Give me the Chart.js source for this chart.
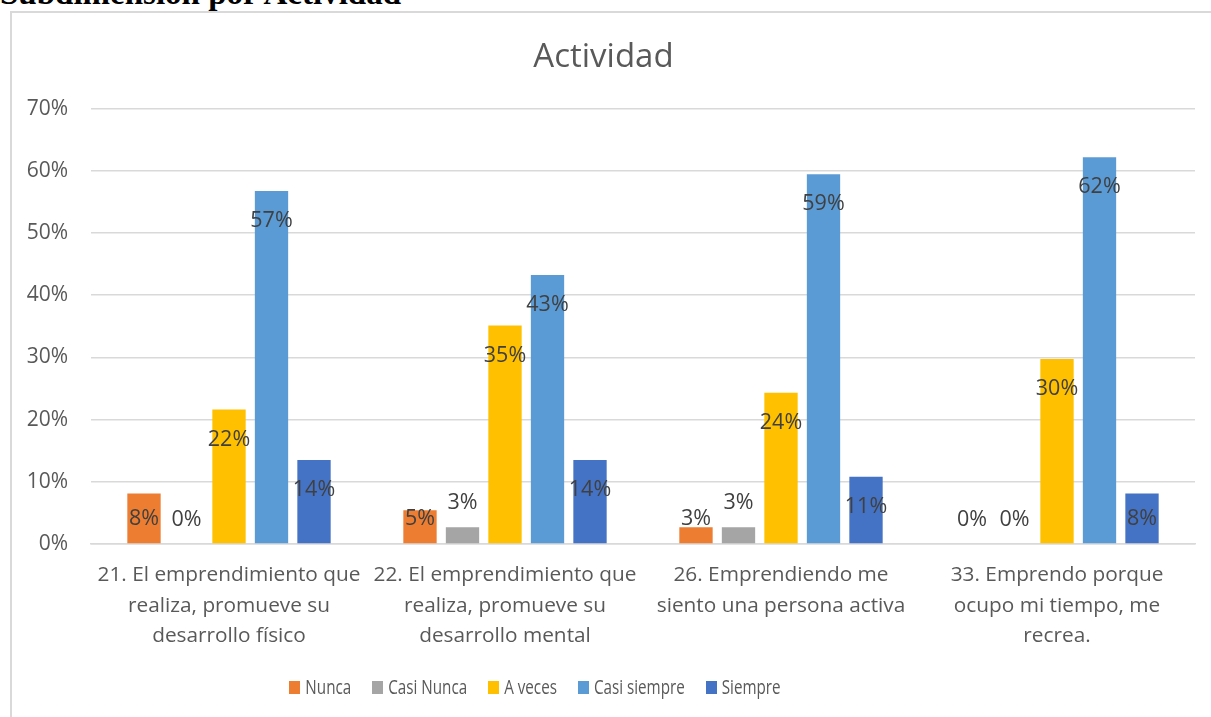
<!DOCTYPE html>
<html>
<head>
<meta charset="utf-8">
<script src="https://cdn.jsdelivr.net/npm/chart.js@4.4.1/dist/chart.umd.min.js"></script>
<style>
  html, body { margin: 0; padding: 0; background: #fff; width: 1211px; height: 717px; overflow: hidden; position: relative; }
  #pt { position: absolute; left: 0; top: -23px; font-family: "Liberation Serif", "DejaVu Serif", serif; font-weight: bold; font-size: 33px; line-height: 33px; color: #000; white-space: nowrap; }
  #box { position: absolute; left: 10px; top: 11px; width: 1220px; height: 720px; border-left: 2px solid #d9d9d9; border-top: 2px solid #d9d9d9; background: #fff; }
  #c { position: absolute; left: 12px; top: 13px; }
</style>
</head>
<body>
<div id="pt">Subdimensión por Actividad</div>
<div id="box"></div>
<canvas id="c" width="1199" height="704"></canvas>
<script>
const categories = [
  ["21. El emprendimiento que", "realiza, promueve su", "desarrollo físico"],
  ["22. El emprendimiento que", "realiza, promueve su", "desarrollo mental"],
  ["26. Emprendiendo me", "siento una persona activa"],
  ["33. Emprendo porque", "ocupo mi tiempo, me", "recrea."]
];
const seriesNames = ["Nunca", "Casi Nunca", "A veces", "Casi siempre", "Siempre"];
const nunca       = [8.11, 5.41, 2.70, 0];
const casiNunca   = [0, 2.70, 2.70, 0];
const aVeces      = [21.62, 35.14, 24.32, 29.73];
const casiSiempre = [56.76, 43.24, 59.46, 62.16];
const siempre     = [13.51, 13.51, 10.81, 8.11];
const yTicks = [0, 10, 20, 30, 40, 50, 60, 70];

const colors = ["#ED7D31", "#A5A5A5", "#FFC000", "#5B9BD5", "#4472C4"];
const seriesValues = [nunca, casiNunca, aVeces, casiSiempre, siempre];
const FONT = "'Open Sans', 'Noto Sans', sans-serif";

const dataLabels = {
  id: 'dataLabels',
  afterDatasetsDraw(chart) {
    const ctx = chart.ctx;
    ctx.save();
    ctx.font = "21.5px " + FONT;
    ctx.fillStyle = "#404040";
    ctx.textAlign = "center";
    ctx.textBaseline = "middle";
    chart.data.datasets.forEach((ds, di) => {
      const meta = chart.getDatasetMeta(di);
      meta.data.forEach((el, i) => {
        const v = ds.data[i];
        let y = Math.min(el.y + 30, el.base - 24);
        if (di === 1 && v > 0) y = el.base - 40;
        ctx.fillText(Math.round(v) + "%", el.x, y);
      });
    });
    ctx.restore();
  }
};

// Legend drawn from the chart's datasets (narrow, Calibri-like text)
const narrowLegend = {
  id: 'narrowLegend',
  afterDraw(chart) {
    const ctx = chart.ctx;
    const sx = 0.78, box = 11, boxH = 13, gapText = 5, gapItem = 21;
    const cx = 523, cy = 674;
    ctx.save();
    ctx.font = "19.5px " + FONT;
    ctx.textBaseline = "middle";
    ctx.textAlign = "left";
    const items = chart.data.datasets.map(ds => ({
      label: ds.label, color: ds.backgroundColor, w: ctx.measureText(ds.label).width * sx
    }));
    let total = items.reduce((s, it) => s + box + gapText + it.w, 0) + gapItem * (items.length - 1);
    let x = cx - total / 2;
    items.forEach(it => {
      ctx.fillStyle = it.color;
      ctx.fillRect(Math.round(x), Math.round(cy - boxH / 2), box, boxH);
      ctx.fillStyle = "#595959";
      ctx.save();
      ctx.translate(x + box + gapText, cy + 1);
      ctx.scale(sx, 1);
      ctx.fillText(it.label, 0, 0);
      ctx.restore();
      x += box + gapText + it.w + gapItem;
    });
    ctx.restore();
  }
};

new Chart(document.getElementById('c'), {
  type: 'bar',
  data: {
    labels: categories,
    datasets: seriesNames.map((n, k) => ({
      label: n,
      data: seriesValues[k],
      backgroundColor: colors[k],
      borderWidth: 0,
      categoryPercentage: 0.77,
      barPercentage: 0.784
    }))
  },
  options: {
    responsive: false,
    animation: false,
    events: [],
    layout: { padding: { left: 0, right: 16, top: 0, bottom: 59 } },
    plugins: {
      title: {
        display: true,
        text: 'Actividad',
        color: '#595959',
        font: { family: FONT, size: 33, weight: 'normal', lineHeight: 1.2 },
        padding: { top: 25, bottom: 31 }
      },
      legend: { display: false },
      tooltip: { enabled: false }
    },
    scales: {
      x: {
        grid: { display: false, drawTicks: false },
        border: { display: true, color: '#d9d9d9', width: 1.5 },
        ticks: {
          color: '#595959',
          font: { family: FONT, size: 20.8, lineHeight: '30.5px' },
          padding: 16,
          maxRotation: 0,
          autoSkip: false
        },
        afterFit(s) { s.height = 114; }
      },
      y: {
        min: 0,
        max: 70,
        afterBuildTicks(s) { s.ticks = yTicks.map(v => ({ value: v })); },
        grid: { color: '#d9d9d9', lineWidth: 1.5, drawTicks: false },
        border: { display: false },
        ticks: {
          color: '#595959',
          font: { family: FONT, size: 21 },
          padding: 23,
          callback: v => v + '%'
        },
        afterFit(s) { s.width = 79; }
      }
    }
  },
  plugins: [dataLabels, narrowLegend]
});
</script>
</body>
</html>
